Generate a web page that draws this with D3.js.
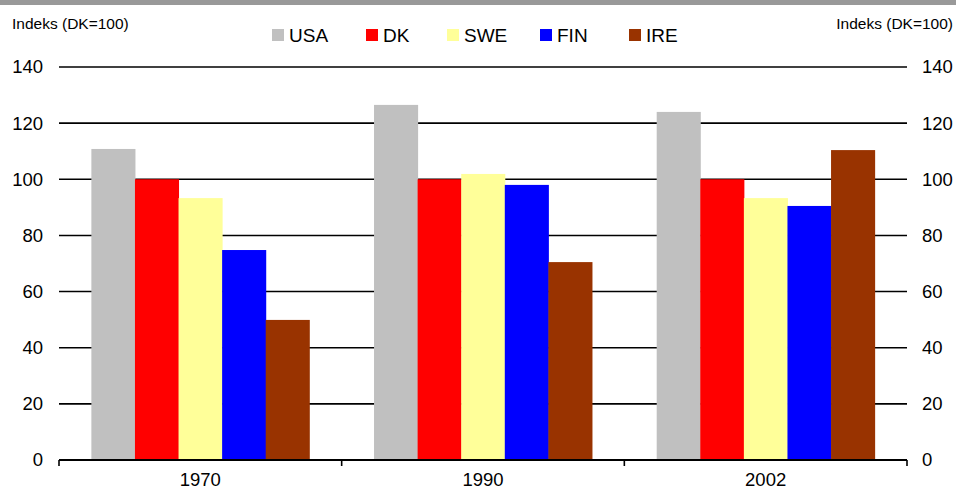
<!DOCTYPE html>
<html><head><meta charset="utf-8">
<script src="https://cdn.jsdelivr.net/npm/d3@7"></script>
<style>body{margin:0;background:#fff}svg{display:block;font-family:"Liberation Sans",Arial,sans-serif}</style>
</head><body>
<svg id="c" width="956" height="490"></svg>
<script>
const categories = ["1970", "1990", "2002"];
const seriesNames = ["USA", "DK", "SWE", "FIN", "IRE"];
const seriesColors = ["#c0c0c0", "#ff0000", "#ffff99", "#0000ff", "#993300"];
const usa = [110.8, 126.5, 124.0];
const dk = [100, 100, 100];
const swe = [93.3, 101.9, 93.3];
const fin = [74.8, 98.0, 90.5];
const ire = [49.9, 70.5, 110.4];
const yTicks = [0, 20, 40, 60, 80, 100, 120, 140];
const axisTitle = "Indeks (DK=100)";

const seriesValues = [usa, dk, swe, fin, ire];
const svg = d3.select("#c");
const L = 59, R = 907, T = 67, B = 460;

svg.append("rect").attr("x", 0).attr("y", 0).attr("width", 956).attr("height", 5).attr("fill", "#999999");

const x = d3.scaleBand().domain(categories).range([L, R]).paddingInner(0.229).paddingOuter(0.1145);
const xs = d3.scaleBand().domain(seriesNames).range([0, x.bandwidth()]);
const y = d3.scaleLinear().domain([0, 140]).range([B, T]);

// gridlines
svg.append("g").selectAll("line").data(yTicks.filter(d => d > 0)).join("line")
  .attr("x1", L).attr("x2", R).attr("y1", d => y(d)).attr("y2", d => y(d))
  .attr("stroke", "#000").attr("stroke-width", 1.6);

// bars
const gs = svg.append("g").selectAll("g").data(seriesNames).join("g")
  .attr("fill", (d, i) => seriesColors[i]);
gs.selectAll("rect").data((s, i) => categories.map((c, j) => ({ c, s, v: seriesValues[i][j] }))).join("rect")
  .attr("x", d => x(d.c) + xs(d.s)).attr("width", xs.bandwidth() + 0.5)
  .attr("y", d => y(d.v)).attr("height", d => B - y(d.v));

// y axes
const axL = d3.axisLeft(y).tickValues(yTicks).tickSize(0).tickPadding(16);
const gL = svg.append("g").attr("transform", `translate(${L},0)`).call(axL);
gL.select(".domain").remove();
const axR = d3.axisRight(y).tickValues(yTicks).tickSize(0).tickPadding(15);
const gR = svg.append("g").attr("transform", `translate(${R},0)`).call(axR);
gR.select(".domain").remove();
svg.selectAll(".tick text").attr("font-size", 18.5).attr("font-family", "Liberation Sans, Arial, sans-serif").attr("fill", "#000");

// x axis
const bnd = [L, (x(categories[0]) + x.bandwidth() + x(categories[1])) / 2, (x(categories[1]) + x.bandwidth() + x(categories[2])) / 2, R];
svg.append("line").attr("x1", L).attr("x2", R).attr("y1", B).attr("y2", B).attr("stroke", "#000").attr("stroke-width", 2);
svg.append("g").selectAll("line").data(bnd).join("line")
  .attr("x1", d => d).attr("x2", d => d).attr("y1", B).attr("y2", B + 6).attr("stroke", "#000").attr("stroke-width", 1.6);
svg.append("g").selectAll("text").data(categories).join("text")
  .attr("x", d => x(d) + x.bandwidth() / 2).attr("y", 486).attr("text-anchor", "middle")
  .attr("font-size", 18.5).text(d => d);

// axis titles
svg.append("text").attr("x", 12).attr("y", 29).attr("font-size", 15.5).text(axisTitle);
svg.append("text").attr("x", 953).attr("y", 29).attr("font-size", 15.5).attr("text-anchor", "end").text(axisTitle);

// legend
const legX = [272, 366, 447, 540, 629];
const lg = svg.append("g").selectAll("g").data(seriesNames).join("g")
  .attr("transform", (d, i) => `translate(${legX[i]},29)`);
lg.append("rect").attr("width", 12).attr("height", 12).attr("fill", (d, i) => seriesColors[i]);
lg.append("text").attr("x", 17).attr("y", 12.5).attr("font-size", 19).text(d => d);
</script>
</body></html>
